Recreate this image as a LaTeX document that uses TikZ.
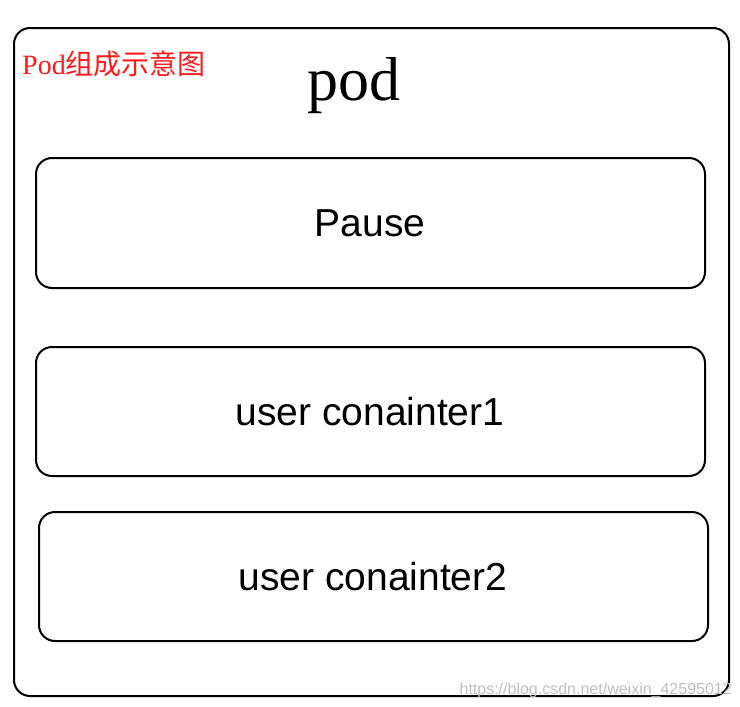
\documentclass[tikz,border=0pt]{standalone}
\usepackage{fontspec}
\setmainfont{Liberation Serif}
\setsansfont{Liberation Sans}
\newfontfamily\cjk{Noto Sans CJK SC}
\begin{document}
\begin{tikzpicture}[x=1pt,y=-1pt,
  box/.style={draw,line width=2pt,rounded corners=16pt},
  lbl/.style={font=\sffamily\fontsize{39}{41}\selectfont}]
\useasboundingbox (0,0) rectangle (740,707);
\draw[box] (14,28) rectangle (729,696);
\node[font=\fontsize{62}{64}\selectfont] (pod) at (354,86) {pod};
\node[anchor=west,text=red!90!white,font=\fontsize{28}{30}\selectfont,inner sep=0] (title) at (22,64) {Pod{\cjk 组成示意图}};
\draw[box] (36,158) rectangle (705,288);
\node[lbl] (p) at (370,223) {Pause};
\draw[box] (36,347) rectangle (705,476);
\node[lbl] (u1) at (370,412) {user conainter1};
\draw[box] (39,512) rectangle (708,641);
\node[lbl] (u2) at (373,577) {user conainter2};
\node[anchor=east,text=black!25,font=\sffamily\fontsize{16}{17}\selectfont,inner sep=0] (wm) at (732,690) {https://blog.csdn.net/weixin\_42595012};
\end{tikzpicture}
\end{document}
